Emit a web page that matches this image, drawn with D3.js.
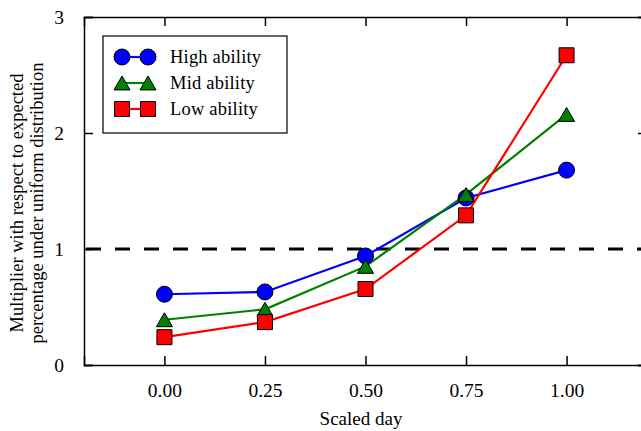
<!DOCTYPE html>
<html>
<head>
<meta charset="utf-8">
<script src="https://cdn.jsdelivr.net/npm/d3@7"></script>
<style>
  body { margin: 0; background: #fff; }
  svg text { font-family: "Liberation Serif", "DejaVu Serif", serif; fill: #000; }
</style>
</head>
<body>
<svg id="chart" width="641" height="431"></svg>
<script>
// scaled day values (x) and the three series
const days = [0, 0.25, 0.5, 0.75, 1.0];
const high = [0.61, 0.63, 0.94, 1.44, 1.68];
const mid = [0.39, 0.48, 0.85, 1.47, 2.16];
const low = [0.24, 0.37, 0.655, 1.29, 2.67];
const xTicks = [0, 0.25, 0.5, 0.75, 1.0];
const yTicks = [0, 1, 2, 3];

const series = [
  { name: 'High ability', values: high, color: '#0000ff', marker: 'circle' },
  { name: 'Mid ability', values: mid, color: '#008000', marker: 'triangle' },
  { name: 'Low ability', values: low, color: '#ff0000', marker: 'square' }
];

const svg = d3.select('#chart');
const plotL = 84, plotT = 17, plotR = 647, plotB = 365;

const x = d3.scaleLinear().domain([-0.2, 1.2]).range([plotL, plotR]);
const y = d3.scaleLinear().domain([0, 3]).range([plotB, plotT]);

// reference line at 1
svg.append('line')
  .attr('x1', plotL).attr('x2', plotR)
  .attr('y1', y(1)).attr('y2', y(1))
  .attr('stroke', '#000').attr('stroke-width', 3)
  .attr('stroke-dasharray', '15,14')
  .attr('stroke-dashoffset', -2);

// axes, ticks pointing inward, on all four sides
const tick = 9;
svg.append('g').attr('transform', `translate(0,${plotB})`)
  .call(d3.axisBottom(x).tickValues(xTicks).tickSize(-tick).tickPadding(18).tickFormat(d3.format('.2f')));
svg.append('g').attr('transform', `translate(0,${plotT})`)
  .call(d3.axisTop(x).tickValues(xTicks).tickSize(-tick).tickFormat(''));
svg.append('g').attr('transform', `translate(${plotL},0)`)
  .call(d3.axisLeft(y).tickValues(yTicks).tickSize(-tick).tickPadding(20).tickFormat(d3.format('d')));
svg.append('g').attr('transform', `translate(${plotR},0)`)
  .call(d3.axisRight(y).tickValues(yTicks).tickSize(-tick).tickFormat(''));

svg.selectAll('.domain').attr('stroke', '#000').attr('stroke-width', 1.5);
svg.selectAll('.tick line').attr('stroke', '#000').attr('stroke-width', 1.5);
svg.selectAll('.tick text').attr('font-size', 19.5).attr('font-family', 'Liberation Serif');

// lines
const line = d3.line().x((d, i) => x(days[i])).y(d => y(d));
series.forEach(s => {
  svg.append('path')
    .datum(s.values)
    .attr('d', line)
    .attr('fill', 'none')
    .attr('stroke', s.color)
    .attr('stroke-width', 2.2);
});

const symbols = {
  circle: d3.symbol().type(d3.symbolCircle).size(Math.PI * 8 * 8),
  triangle: d3.symbol().type(d3.symbolTriangle).size(112),
  square: d3.symbol().type(d3.symbolSquare).size(15 * 15)
};

function drawMarker(g, s, cx, cy) {
  // d3 triangles sit on their centroid; move them so the box is centred
  let dy = 0;
  if (s.marker === 'triangle') dy = 2.3;
  g.append('path')
    .attr('d', symbols[s.marker]())
    .attr('transform', `translate(${cx},${cy + dy})`)
    .attr('fill', s.color)
    .attr('stroke', '#000')
    .attr('stroke-width', 1);
}

series.forEach(s => {
  const g = svg.append('g');
  s.values.forEach((v, i) => drawMarker(g, s, x(days[i]), y(v)));
});

// legend
const lg = svg.append('g');
lg.append('rect')
  .attr('x', 103).attr('y', 36).attr('width', 184).attr('height', 97)
  .attr('fill', '#fff').attr('stroke', '#000').attr('stroke-width', 1.2);
series.forEach((s, i) => {
  const cy = 57 + i * 26;
  lg.append('line')
    .attr('x1', 122).attr('x2', 148).attr('y1', cy).attr('y2', cy)
    .attr('stroke', s.color).attr('stroke-width', 2.2);
  drawMarker(lg, s, 122, cy);
  drawMarker(lg, s, 148, cy);
  lg.append('text')
    .attr('x', 170).attr('y', cy + 6)
    .attr('font-size', 18.5)
    .attr('letter-spacing', 0.2)
    .text(s.name);
});

// axis labels
svg.append('text')
  .attr('x', 361).attr('y', 425)
  .attr('text-anchor', 'middle')
  .attr('font-size', 19)
  .text('Scaled day');

const yl = svg.append('text')
  .attr('transform', 'translate(23,203) rotate(-90)')
  .attr('text-anchor', 'middle')
  .attr('font-size', 18.5);
yl.append('tspan').attr('x', 0).attr('y', 0).text('Multiplier with respect to expected');
yl.append('tspan').attr('x', 0).attr('y', 20).text('percentage under uniform distribution');
</script>
</body>
</html>
